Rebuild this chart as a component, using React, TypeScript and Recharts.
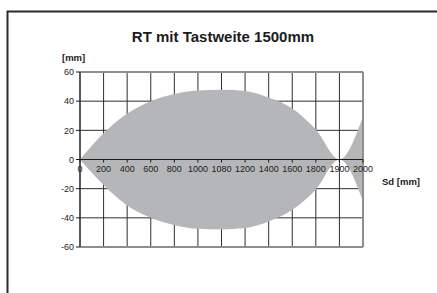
import React from 'react';
import {
  AreaChart,
  Area,
  XAxis,
  YAxis,
  CartesianGrid,
  ReferenceLine,
} from 'recharts';

const distances = ['0', '200', '400', '600', '800', '1000', '1080', '1200', '1400', '1600', '1800', '1900', '2000'];
const upperEdge = [0, 18, 31.5, 40, 45, 47.3, 47.8, 47, 42.5, 35, 20.5, 0, 29.5];
const lowerEdge = [0, -17.5, -31.5, -40, -45, -47.5, -48, -47, -42.5, -34.5, -20.5, 0, -28.5];
const yTicks = [-60, -40, -20, 0, 20, 40, 60];

const W = 437;
const H = 293;
const MARGIN = { top: 72, right: 74, bottom: 26, left: 30 };
const X_AXIS_H = 20;
const PLOT_H = H - MARGIN.top - MARGIN.bottom - X_AXIS_H;

const FONT = '"Liberation Sans", Arial, sans-serif';
const INK = '#1c1c1c';
const BAND = '#b5b6b8';

const rows = distances.map((d, i) => ({ sd: d, range: [lowerEdge[i], upperEdge[i]] }));

// ticks sit on the zero line, not under the plot
function ZeroLineTick(props: any) {
  const { x, y, payload } = props;
  const y0 = y - PLOT_H / 2;
  return (
    <g transform={`translate(${x},${y0})`}>
      <line x1={0} y1={0} x2={0} y2={3} stroke={INK} strokeWidth={1} />
      <text x={0} y={12.5} textAnchor="middle" fontSize={9} fill={INK} fontFamily={FONT}>
        {payload.value}
      </text>
    </g>
  );
}

export default function App() {
  return (
    <div style={{ position: 'fixed', left: 0, top: 0, width: W, height: H, overflow: 'hidden', background: '#fff', fontFamily: FONT }}>
      <svg width={W} height={H} style={{ position: 'absolute', left: 0, top: 0 }}>
        <path d={`M7.5 ${H + 5} L7.5 11.5 L${W + 5} 11.5`} fill="none" stroke="#2b2b2b" strokeWidth={2} />
      </svg>
      <div style={{ position: 'absolute', left: 0, width: 446, top: 28, textAlign: 'center', fontWeight: 'bold', fontSize: 15, color: INK }}>
        RT mit Tastweite 1500mm
      </div>
      <div style={{ position: 'absolute', left: 62, top: 52, fontWeight: 'bold', fontSize: 9.5, color: INK }}>[mm]</div>
      <div style={{ position: 'absolute', left: 382, top: 176, fontWeight: 'bold', fontSize: 9.5, color: INK }}>Sd [mm]</div>

      <div style={{ position: 'absolute', left: 0, top: 0 }}>
        <AreaChart width={W} height={H} data={rows} margin={MARGIN}>
          <CartesianGrid stroke="#2e2e2e" strokeWidth={1} />
          <XAxis
            dataKey="sd"
            height={X_AXIS_H}
            axisLine={false}
            tickLine={false}
            tickSize={0}
            tickMargin={0}
            interval={0}
            tick={<ZeroLineTick />}
          />
          <YAxis
            width={50}
            domain={[-60, 60]}
            ticks={yTicks}
            interval={0}
            tickSize={4}
            tickMargin={2}
            axisLine={{ stroke: INK }}
            tickLine={{ stroke: INK }}
            tick={{ fontSize: 9, fill: INK, fontFamily: FONT }}
          />
          <Area
            type="monotone"
            dataKey="range"
            stroke="none"
            fill={BAND}
            fillOpacity={1}
            isAnimationActive={false}
          />
          <ReferenceLine y={60} stroke="#8e8e8e" strokeWidth={2} />
          <ReferenceLine y={-60} stroke="#8e8e8e" strokeWidth={2} />
          <ReferenceLine x="2000" stroke="#8e8e8e" strokeWidth={2} />
          <ReferenceLine y={0} stroke={INK} strokeWidth={1} />
        </AreaChart>
      </div>
    </div>
  );
}
